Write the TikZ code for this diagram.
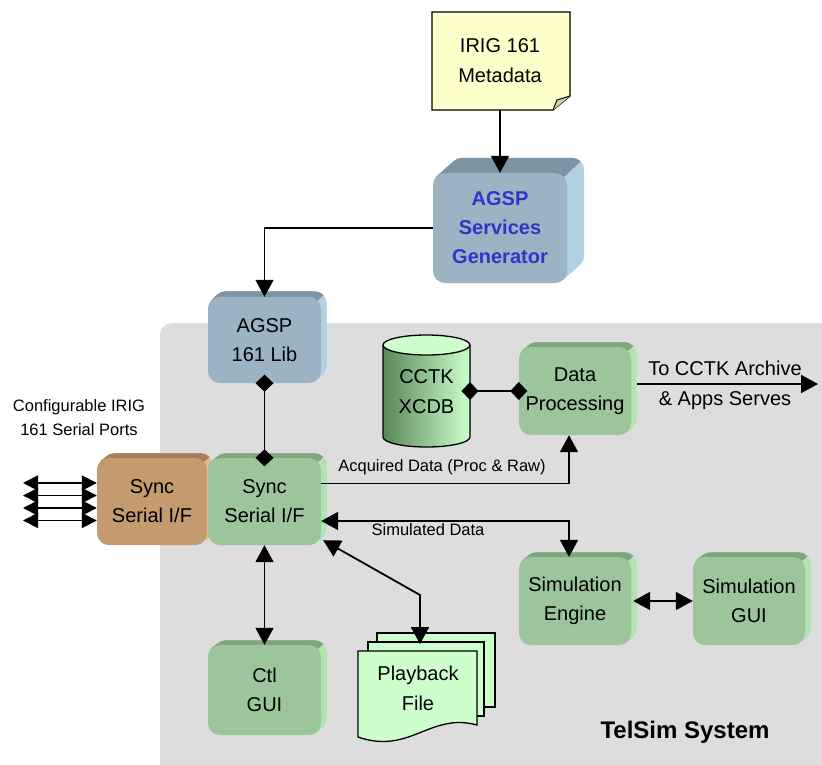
\documentclass[tikz,border=0pt]{standalone}
\usepackage{fontspec}
\setmainfont{Liberation Sans}
\usetikzlibrary{arrows.meta,calc}
\definecolor{greenF}{HTML}{9CC59C}
\definecolor{greenT}{HTML}{7FA67F}
\definecolor{greenR}{HTML}{B3E3B3}
\definecolor{blueF}{HTML}{9BB3C3}
\definecolor{blueT}{HTML}{7D94A3}
\definecolor{blueR}{HTML}{B3D1E5}
\definecolor{brownF}{HTML}{C49A6F}
\definecolor{brownT}{HTML}{A27F5E}
\definecolor{brownR}{HTML}{E6BA8F}
\definecolor{bggrey}{HTML}{DDDDDD}
\definecolor{noteF}{HTML}{FFFFCC}
\definecolor{foldF}{HTML}{D2D2AA}
\definecolor{pale}{HTML}{CCFFCC}
\definecolor{cylD}{HTML}{5A875A}
\definecolor{genT}{HTML}{3333CC}
% #1 name, #2 x1, #3 y1, #4 x2, #5 y2, #6 dx, #7 dy, #8 colour prefix, #9 text
\newcommand\tdbox[9]{%
  \foreach \t in {0.05,0.1,...,1.0}{%
    \fill[#8R, rounded corners=12pt] ({#2+\t*#6},{#3-\t*#7}) rectangle ({#4+\t*#6},{#5-\t*#7});}
  \begin{scope}
    \clip ({#4-4-40*#6},{#3+4+40*#7}) -- ({#4-4+40*#6},{#3+4-40*#7})
       -- ({#4-4+40*#6-40*#7},{#3+4-40*#7-40*#6}) -- ({#4-4-40*#6-40*#7},{#3+4+40*#7-40*#6}) -- cycle;
    \foreach \t in {0.05,0.1,...,1.0}{%
      \fill[#8T, rounded corners=12pt] ({#2+\t*#6},{#3-\t*#7}) rectangle ({#4+\t*#6},{#5-\t*#7});}
  \end{scope}
  \node[face, fill=#8F, minimum width={#4pt-#2pt}, minimum height={#5pt-#3pt}] (#1) at ({(#2+#4)/2},{(#3+#5)/2}) {#9};
}
\begin{document}
\begin{tikzpicture}[x=1pt,y=-1pt,
  >={Triangle[length=17pt,width=18pt]},
  txt/.style={font=\fontsize{20}{30}\selectfont, align=center, inner sep=0},
  lbl/.style={font=\fontsize{16.5}{24}\selectfont, align=center, inner sep=0},
  face/.style={rounded corners=12pt, inner sep=0, align=center, font=\fontsize{20}{29}\selectfont},
  ln/.style={line width=1.8pt},
  dd/.style={{Diamond[length=17pt,width=18pt]}-{Diamond[length=17pt,width=18pt]}, shorten <=-8.5pt, shorten >=-8.5pt},
  port/.style={line width=1.8pt, {Triangle[length=15pt,width=15pt]}-{Triangle[length=15pt,width=15pt]}},
  outl/.style={draw=black, line width=1.3pt}
]
\useasboundingbox (0,0) rectangle (822,764);
% grey system area
\fill[bggrey, rounded corners=12pt] (160,323) rectangle (860,800);

% note
\draw[outl, fill=noteF] (432,12) -- (570,12) -- (570,96) -- (553,110) -- (432,110) -- cycle;
\draw[outl, fill=foldF, line width=1pt] (570,96) -- (557,100) -- (553,110);
\node[txt, minimum width=138pt, minimum height=98pt] (note) at (500,61) {IRIG 161\\Metadata};

% boxes
\tdbox{gen}{433}{173}{567}{283}{18}{16}{blue}{\textcolor{genT}{\textbf{AGSP}}\\\textcolor{genT}{\textbf{Services}}\\\textcolor{genT}{\textbf{Generator}}}
\tdbox{lib}{208}{297}{321}{383}{6}{6}{blue}{AGSP\\161 Lib}
\tdbox{bs}{97}{458}{207}{545}{6}{5}{brown}{Sync\\Serial I/F}
\tdbox{gs}{208}{458}{321}{545}{6}{5}{green}{Sync\\Serial I/F}
\tdbox{dp}{519}{347}{631}{435}{6}{5}{green}{Data\\Processing}
\tdbox{se}{519}{557}{631}{645}{6}{5}{green}{Simulation\\Engine}
\tdbox{sg}{693}{557}{805}{645}{6}{5}{green}{Simulation\\GUI}
\tdbox{ctl}{208}{645}{321}{735}{6}{5}{green}{Ctl\\GUI}

% cylinder
\fill[left color=cylD, right color=pale] (383,345) -- (383,437)
  arc[start angle=180, end angle=360, x radius=43.5pt, y radius=10pt] -- (470,345) -- cycle;
\draw[outl] (383,345) -- (383,437)
  arc[start angle=180, end angle=360, x radius=43.5pt, y radius=10pt] -- (470,345);
\draw[outl, fill=pale] (426.5,345) ellipse [x radius=43.5pt, y radius=10pt];
\node[txt] (db) at (426.5,392) {CCTK\\XCDB};
\coordinate (dbE) at (470,391);

% playback file stack
\draw[outl, fill=pale] (377,633) rectangle (495,707);
\draw[outl, fill=pale] (368,642) rectangle (484,716);
\draw[outl, fill=pale] (358,651) -- (477,651) -- (477,725) .. controls (430,712) and (410,755) .. (358,737) -- cycle;
\node[txt] (pb) at (418,688) {Playback\\File};
\coordinate (pbtop) at (420,644);
\coordinate (pbBend) at (420,595);

% labels
\node[lbl] (cfg) at (79,418) {Configurable IRIG\\161 Serial Ports};
\node[lbl] (acq) at (442,467) {Acquired Data (Proc \& Raw)};
\node[lbl] (sim) at (428,530) {Simulated Data};
\node[txt] (cctk) at (725,385) {To CCTK Archive\\\& Apps Serves};
\node[font=\bfseries\fontsize{24}{28}\selectfont, inner sep=0] (telsim) at (685,732) {TelSim System};

% connectors
\draw[ln,->] (note.south) -- (gen.north);
\draw[ln,->] (gen.west) -| (lib.north);
\draw[ln,dd] (lib.south) -- (gs.north);
\draw[ln,dd] (dbE) -- (dp.west);
\coordinate (out) at (818,384);
\coordinate (dpR) at ([xshift=6pt]dp.east);
\draw[ln,->] (dpR |- out) -- (out);
\draw[ln,->] ([yshift=18pt]gs.east) -| ([xshift=-6pt]dp.south);
\draw[ln,<->] ([yshift=-19.5pt]gs.east) -| ([xshift=-6pt]se.north);
\draw[ln,<->] (gs.south) -- (ctl.north);
\draw[ln,<->] ([xshift=2pt,yshift=5pt]gs.south east) -- (pbBend) -- (pbtop);
\draw[ln,<->] ([xshift=2pt]se.east) -- (sg.west);
\foreach \yy [count=\k] in {483,495.5,508,520.5}{
  \coordinate (p\k) at (23,\yy);
  \draw[port] (p\k) -- (bs.west |- p\k);
}
\end{tikzpicture}
\end{document}
